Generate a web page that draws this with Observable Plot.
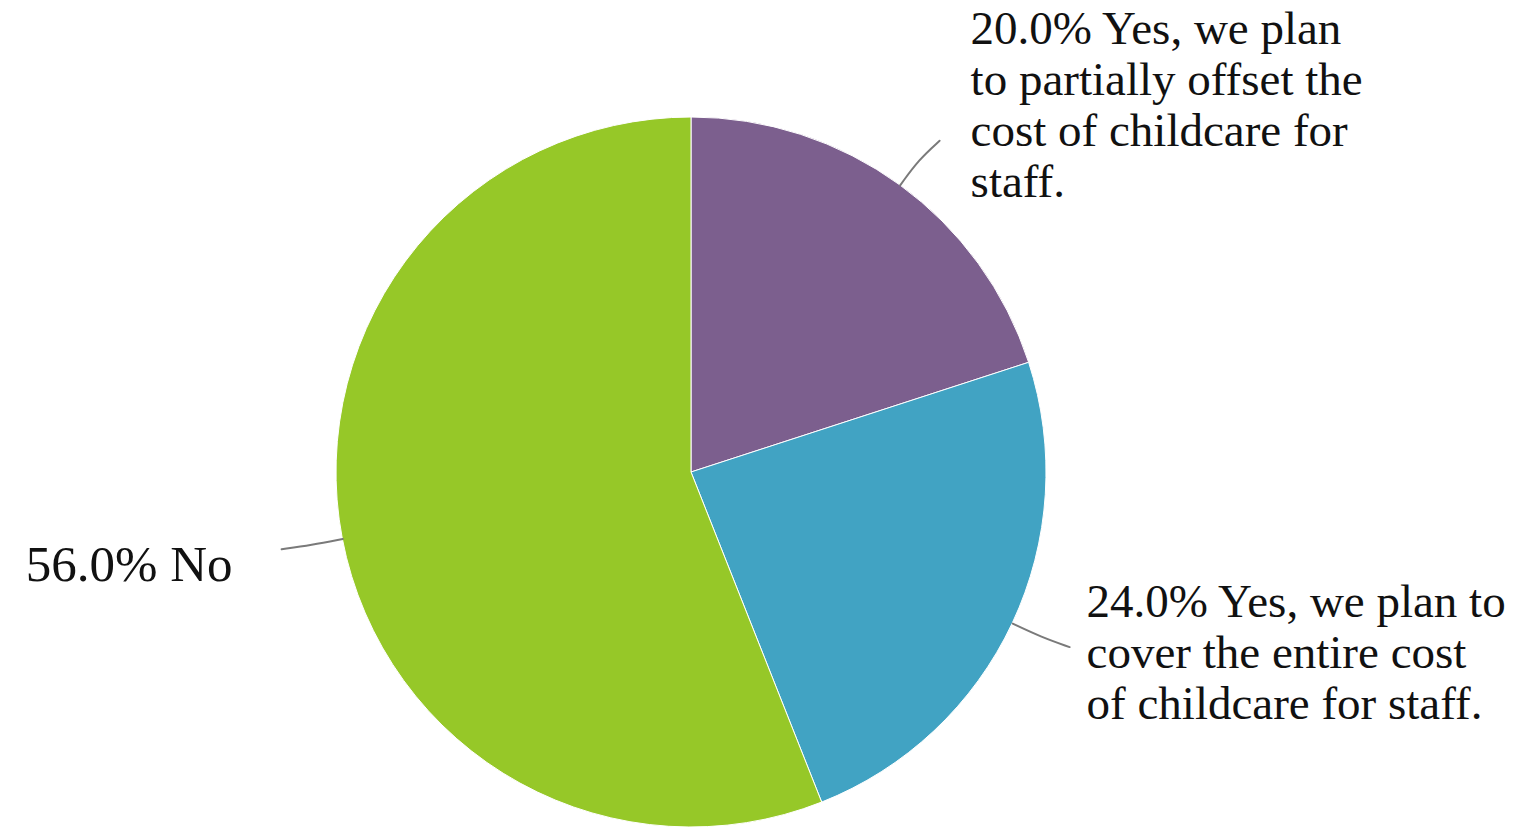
<!DOCTYPE html>
<html>
<head>
<meta charset="utf-8">
<script src="https://cdn.jsdelivr.net/npm/d3@7"></script>
<script src="https://cdn.jsdelivr.net/npm/@observablehq/plot@0.6"></script>
<style>
  html, body { margin: 0; padding: 0; background: #fff; }
  #chart svg { display: block; }
</style>
</head>
<body>
<div id="chart"></div>
<script>
// ---- data ----
const categories = [
  "Yes, we plan to partially offset the cost of childcare for staff.",
  "Yes, we plan to cover the entire cost of childcare for staff.",
  "No"
];
const shares = [20.0, 24.0, 56.0];
const labelTexts = [
  "20.0% Yes, we plan\nto partially offset the\ncost of childcare for\nstaff.",
  "24.0% Yes, we plan to\ncover the entire cost\nof childcare for staff.",
  "56.0% No"
];
const sliceColors = ["#7c5f8e", "#41a3c3", "#96c828"];

// ---- layout ----
const W = 1525, H = 828;
const CX = 691, CY = 472, R = 355;

const rows = categories.map((c, i) => ({category: c, share: shares[i], label: labelTexts[i], color: sliceColors[i]}));
const arcs = d3.pie().sort(null).value(d => d.share)(rows);

// leader lines & label anchors computed from slice mid-angles
const leaders = [];
const anchors = [];
arcs.forEach((a, i) => {
  const m = (a.startAngle + a.endAngle) / 2;
  const sx = Math.sin(m), sy = Math.cos(m);
  const side = sx >= 0 ? 1 : -1;
  const p = (r) => ({x: r * sx, y: r * sy});
  const p0 = p(1.0), p1 = p(1.09), p2 = p(1.155);
  leaders.push({k: i, ...p0}, {k: i, ...p1}, {k: i, x: p2.x + side * 0.02, y: p2.y});
  anchors.push({...rows[i], x: p2.x + side * 0.02, y: p2.y, side});
});

const labelStyle = [
  {dx: 31, dy: -37, anchor: "start", size: 47},
  {dx: 17, dy: 5, anchor: "end" === "x" ? "end" : "start", size: 47},
  {dx: -49, dy: 15, anchor: "end", size: 51}
];

const pieMark = (index, scales) => {
  const cx = scales.x(0), cy = scales.y(0), r = scales.x(1) - cx;
  const g = d3.create("svg:g").attr("transform", `translate(${cx},${cy})`);
  g.selectAll("path")
    .data(arcs)
    .join("path")
    .attr("d", d3.arc().innerRadius(0).outerRadius(r))
    .attr("fill", d => d.data.color)
    .attr("stroke", "#ffffff")
    .attr("stroke-width", 1)
    .attr("stroke-linejoin", "round");
  return g.node();
};

const textMarks = anchors.map((a, i) => Plot.text([a], {
  x: "x", y: "y", text: "label",
  dx: labelStyle[i].dx, dy: labelStyle[i].dy,
  textAnchor: labelStyle[i].anchor,
  lineAnchor: "middle",
  lineHeight: 51 / labelStyle[i].size,
  fontSize: labelStyle[i].size,
  fill: "#111111"
}));

const chart = Plot.plot({
  width: W, height: H,
  margin: 0,
  x: {domain: [-CX / R, (W - CX) / R], range: [0, W], axis: null},
  y: {domain: [-(H - CY) / R, CY / R], range: [H, 0], axis: null},
  style: {fontFamily: "'Liberation Serif', 'DejaVu Serif', serif", background: "#fff"},
  marks: [
    pieMark,
    Plot.line(leaders, {x: "x", y: "y", z: "k", stroke: "#7a7a7a", strokeWidth: 2, curve: "basis"}),
    ...textMarks
  ]
});
document.getElementById("chart").appendChild(chart);
</script>
</body>
</html>
